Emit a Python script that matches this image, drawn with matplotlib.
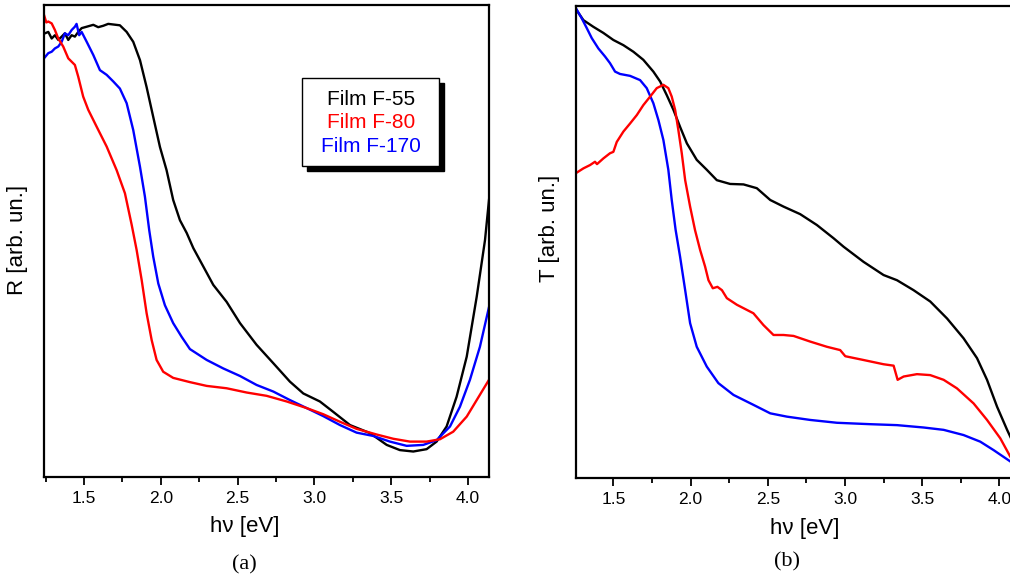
import matplotlib
matplotlib.use("Agg")
import matplotlib.pyplot as plt
from matplotlib.patches import Rectangle
from matplotlib.ticker import MultipleLocator

plt.rcParams['font.family'] = ['Liberation Sans', 'DejaVu Sans']

# ---------------- Panel (a): reflectance ----------------
r55_x = [1.246, 1.268, 1.290, 1.311, 1.333, 1.355, 1.376, 1.398, 1.420, 1.441, 1.463, 1.485,
         1.518, 1.561, 1.593, 1.626, 1.658, 1.734, 1.778, 1.821, 1.865, 1.908, 1.951, 1.995,
         2.038, 2.081, 2.125, 2.169, 2.212, 2.277, 2.342, 2.429, 2.516, 2.624, 2.733, 2.841,
         2.928, 3.036, 3.123, 3.232, 3.362, 3.471, 3.557, 3.644, 3.731, 3.796, 3.861, 3.926,
         3.992, 4.057, 4.111, 4.137]
r55_y = [94.0, 94.3, 92.9, 93.6, 92.6, 93.3, 94.0, 92.6, 93.6, 93.3, 94.3, 95.1,
         95.4, 95.8, 95.3, 95.6, 96.0, 95.7, 94.3, 92.2, 88.3, 82.6, 76.3, 69.9,
         65.0, 58.7, 54.4, 51.7, 48.5, 44.6, 40.7, 37.1, 32.6, 28.0, 24.1, 20.2,
         17.7, 16.0, 13.8, 11.0, 9.3, 6.8, 5.7, 5.4, 5.9, 7.5, 10.7, 17.0,
         25.5, 38.2, 50.2, 58.7]

r80_x = [1.240, 1.255, 1.268, 1.290, 1.311, 1.333, 1.365, 1.398, 1.441, 1.463, 1.495, 1.528,
         1.583, 1.648, 1.713, 1.767, 1.811, 1.843, 1.876, 1.908, 1.941, 1.973, 2.016, 2.081,
         2.190, 2.299, 2.429, 2.559, 2.689, 2.820, 2.950, 3.058, 3.167, 3.275, 3.406, 3.514,
         3.622, 3.731, 3.818, 3.904, 3.992, 4.057, 4.137]
r80_y = [97.9, 96.3, 96.5, 96.1, 94.7, 92.9, 91.2, 88.7, 87.3, 84.8, 80.6, 77.8,
         74.2, 70.0, 65.0, 60.1, 53.4, 48.1, 41.7, 34.7, 29.0, 24.8, 22.3, 21.0,
         20.1, 19.3, 18.8, 17.9, 17.2, 16.0, 14.6, 13.3, 11.7, 10.2, 9.0, 8.1,
         7.5, 7.5, 8.0, 9.6, 12.8, 16.3, 20.6]

r170_x = [1.240, 1.268, 1.290, 1.311, 1.333, 1.355, 1.376, 1.398, 1.420, 1.441, 1.452, 1.469,
          1.485, 1.518, 1.561, 1.604, 1.648, 1.691, 1.734, 1.778, 1.821, 1.865, 1.897, 1.925,
          1.951, 1.984, 2.027, 2.081, 2.136, 2.190, 2.299, 2.407, 2.516, 2.624, 2.733, 2.841,
          2.950, 3.058, 3.167, 3.275, 3.383, 3.492, 3.601, 3.709, 3.796, 3.883, 3.948, 4.013,
          4.078, 4.137]
r170_y = [88.7, 89.8, 90.1, 90.8, 91.2, 92.2, 94.0, 93.6, 94.7, 95.4, 96.0, 93.6,
          94.3, 92.2, 89.4, 86.2, 85.2, 83.8, 82.3, 79.2, 73.5, 65.7, 59.4, 52.3,
          46.7, 41.0, 36.4, 32.6, 29.7, 27.1, 24.8, 23.0, 21.4, 19.5, 18.1, 16.3,
          14.6, 12.9, 11.0, 9.4, 8.7, 7.5, 6.6, 6.8, 7.8, 10.7, 14.9, 20.6,
          27.6, 36.0]

# ---------------- Panel (b): transmittance ----------------
t55_x = [1.258, 1.306, 1.370, 1.435, 1.500, 1.565, 1.630, 1.694, 1.759, 1.803, 1.846, 1.889,
         1.932, 1.976, 2.040, 2.105, 2.170, 2.256, 2.343, 2.429, 2.516, 2.602, 2.710, 2.818,
         2.926, 2.991, 3.120, 3.250, 3.337, 3.444, 3.552, 3.661, 3.768, 3.855, 3.920, 3.985,
         4.050, 4.070, 4.140]
t55_y = [99.3, 97.0, 95.6, 94.3, 92.8, 91.7, 90.3, 88.6, 86.1, 84.0, 81.1, 78.0,
         74.4, 70.9, 67.4, 65.3, 63.1, 62.3, 62.2, 61.4, 58.9, 57.5, 55.9, 53.6,
         50.8, 49.0, 45.8, 43.0, 41.9, 39.8, 37.4, 33.8, 29.6, 25.4, 20.8, 15.1,
         10.2, 8.8, 3.8]

t80_x = [1.258, 1.306, 1.349, 1.381, 1.394, 1.435, 1.478, 1.500, 1.522, 1.565, 1.608, 1.652,
         1.694, 1.738, 1.781, 1.824, 1.856, 1.878, 1.900, 1.921, 1.943, 1.965, 1.997, 2.029,
         2.062, 2.094, 2.116, 2.144, 2.174, 2.203, 2.235, 2.300, 2.407, 2.472, 2.537, 2.602,
         2.667, 2.775, 2.883, 2.969, 3.002, 3.120, 3.250, 3.315, 3.341, 3.380, 3.466, 3.552,
         3.639, 3.725, 3.833, 3.920, 4.006, 4.071, 4.140]
t80_y = [64.6, 65.6, 66.3, 67.0, 66.5, 67.7, 68.8, 69.1, 71.2, 73.4, 75.1, 76.9,
         79.0, 80.8, 82.6, 83.3, 82.6, 80.8, 78.0, 73.7, 68.8, 63.1, 57.5, 52.5,
         48.3, 44.8, 41.9, 40.2, 40.5, 39.8, 38.1, 36.7, 34.9, 32.4, 30.3, 30.3,
         30.1, 28.9, 27.8, 27.1, 25.8, 25.0, 24.1, 23.8, 20.8, 21.5, 22.0, 21.8,
         20.8, 19.0, 15.8, 12.3, 8.4, 4.5, 1.7]

t170_x = [1.258, 1.295, 1.328, 1.360, 1.403, 1.446, 1.478, 1.511, 1.543, 1.608, 1.673, 1.716,
          1.759, 1.792, 1.824, 1.856, 1.878, 1.903, 1.932, 1.965, 1.997, 2.040, 2.105,
          2.180, 2.278, 2.407, 2.516, 2.624, 2.775, 2.948, 3.164, 3.337, 3.509, 3.639, 3.768,
          3.876, 3.963, 4.071, 4.140]
t170_y = [99.5, 97.4, 95.3, 93.2, 91.0, 89.3, 87.9, 86.1, 85.6, 85.2, 84.3, 82.6,
          79.4, 75.8, 71.6, 65.3, 58.9, 52.6, 46.9, 39.8, 32.8, 27.8, 23.6,
          20.1, 17.6, 15.5, 13.7, 13.0, 12.3, 11.7, 11.4, 11.2, 10.7, 10.2, 9.1,
          7.7, 5.9, 3.5, 1.9]

legend_labels = ["Film F-55", "Film F-80", "Film F-170"]
colors = ["#000000", "#ff0000", "#0000ff"]
xticks = [1.5, 2.0, 2.5, 3.0, 3.5, 4.0]

W, H = 1010, 581
fig = plt.figure(figsize=(W / 100, H / 100), dpi=100)


def px_rect(x0, y0, x1, y1):
    return [x0 / W, 1 - y1 / H, (x1 - x0) / W, (y1 - y0) / H]


ax1 = fig.add_axes(px_rect(44, 5, 489, 477))
ax2 = fig.add_axes(px_rect(576, 6, 1021, 478))

lw = 1.7
for xs, ys, c in [(r55_x, r55_y, colors[0]), (r170_x, r170_y, colors[2]), (r80_x, r80_y, colors[1])]:
    ax1.plot(xs, ys, color=c, lw=lw, solid_joinstyle='round')
for xs, ys, c in [(t55_x, t55_y, colors[0]), (t170_x, t170_y, colors[2]), (t80_x, t80_y, colors[1])]:
    ax2.plot(xs, ys, color=c, lw=lw, solid_joinstyle='round')

ax1.set_xlim(1.240, 4.137)
ax2.set_xlim(1.258, 4.140)
for ax in (ax1, ax2):
    ax.set_ylim(0, 100)
    ax.set_yticks([])
    ax.set_xticks(xticks)
    ax.set_xticklabels([f"{v:.1f}" for v in xticks], fontsize=12.5)
    ax.xaxis.set_minor_locator(MultipleLocator(0.25))
    ax.tick_params(axis='x', which='major', direction='out', length=6, width=1.3, pad=4)
    ax.tick_params(axis='x', which='minor', direction='out', length=3.5, width=1.3)
    for s in ax.spines.values():
        s.set_linewidth(1.6)

ax1.set_xlabel("hν [eV]", fontsize=16)
ax1.xaxis.set_label_coords(0.452, -0.082)
ax2.set_xlabel("hν [eV]", fontsize=16)
ax2.xaxis.set_label_coords(0.515, -0.085)

fig.text(18 / W, 1 - 240 / H, "R [arb. un.]", rotation=90, ha='center', va='center', fontsize=16)
fig.text(549 / W, 1 - 228 / H, "T [arb. un.]", rotation=90, ha='center', va='center', fontsize=16)

fig.text(244.5 / W, 1 - 565 / H, "(a)", ha='center', va='center', fontsize=16,
         family=['Liberation Serif', 'DejaVu Serif'])
fig.text(787 / W, 1 - 562 / H, "(b)", ha='center', va='center', fontsize=16,
         family=['Liberation Serif', 'DejaVu Serif'])

# Legend box with drop shadow
bx0, bx1, by0, by1 = 0.579, 0.888, 0.659, 0.845
dx, dy = 0.0112, 0.0106
ax1.add_patch(Rectangle((bx0 + dx, by0 - dy), bx1 - bx0, by1 - by0, transform=ax1.transAxes,
                        facecolor='black', edgecolor='black', zorder=5))
ax1.add_patch(Rectangle((bx0, by0), bx1 - bx0, by1 - by0, transform=ax1.transAxes,
                        facecolor='white', edgecolor='black', lw=1.0, zorder=6))
for lab, c, yy in zip(legend_labels, colors, [0.799, 0.750, 0.701]):
    ax1.text(0.735, yy, lab, color=c, fontsize=15, ha='center', va='center',
             transform=ax1.transAxes, zorder=7)

fig.savefig("out.png", dpi=100)
